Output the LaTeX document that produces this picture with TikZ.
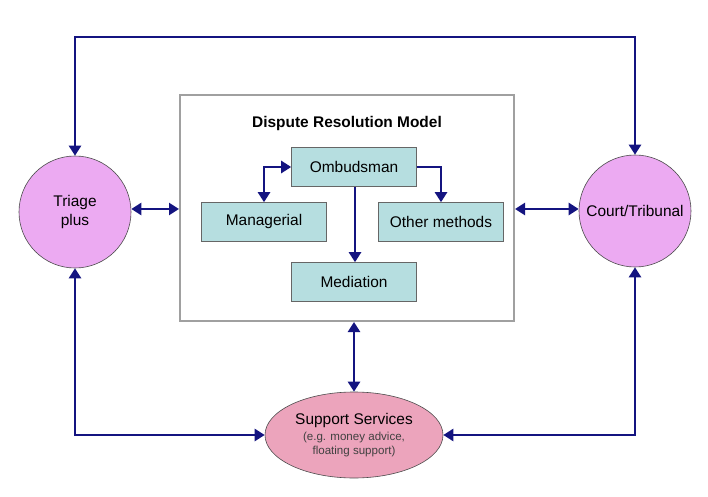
\documentclass[tikz,border=0pt]{standalone}
\usepackage{fontspec}
\setmainfont{Liberation Sans}
\usetikzlibrary{arrows.meta,shapes.geometric}
\definecolor{navyline}{RGB}{20,20,128}
\definecolor{boxfill}{RGB}{182,222,224}
\definecolor{circfill}{RGB}{236,170,242}
\definecolor{ellfill}{RGB}{236,164,188}
\definecolor{frame}{RGB}{160,160,160}
\tikzset{
  conn/.style={draw=navyline,line width=2.4bp,{Triangle[width=12bp,length=10bp]}-{Triangle[width=12bp,length=10bp]}},
  conn1/.style={draw=navyline,line width=2.4bp,-{Triangle[width=12bp,length=10bp]}},
  stepbox/.style={draw=black!60,line width=0.6bp,fill=boxfill,minimum width=125bp,minimum height=39bp,inner sep=0pt,font=\fontsize{15.5}{18}\selectfont},
  bigcirc/.style={circle,draw=black!70,line width=0.6bp,fill=circfill,minimum size=112bp,inner sep=0pt,align=center,font=\fontsize{15.5}{18}\selectfont},
}
\begin{document}
\begin{tikzpicture}[x=1bp,y=-1bp]
\useasboundingbox[fill=white] (0,0) rectangle (708,497);
\node[draw=frame,line width=2bp,minimum width=334bp,minimum height=226bp,inner sep=0pt] (dr) at (347,208) {};
\node[font=\bfseries\fontsize{15.5}{18}\selectfont] (title) at (347,124) {Dispute Resolution Model};
\node[stepbox] (omb) at (354,167) {Ombudsman};
\node[stepbox] (man) at (264,222) {Managerial};
\node[stepbox] (oth) at (441,222) {Other methods};
\node[stepbox] (med) at (354,282) {Mediation};
\node[bigcirc] (tri) at (75,212) {Triage\\[2bp]plus};
\node[bigcirc] (crt) at (635,211) {Court/Tribunal};
\node[ellipse,draw=black!70,line width=0.6bp,fill=ellfill,minimum width=178bp,minimum height=86bp,inner sep=0pt,align=center,font=\fontsize{11.6}{13.5}\selectfont] (sup) at (354,435)
  {{\fontsize{15.5}{18}\selectfont Support Services}\\[3bp]{\color{black!75}(e.g. money advice,}\\{\color{black!75}floating support)}};
\coordinate (topy) at (0,37);
\draw[conn] (omb.west) -| (man.north);
\draw[conn1] (omb.east) -| (oth.north);
\draw[conn1] (omb.south -| 355,0) -- (med.north -| 355,0);
\draw[conn] (tri.east |- 0,209) -- (dr.west |- 0,209);
\draw[conn] (dr.east |- 0,209) -- (crt.west |- 0,209);
\draw[conn] (tri.north) -- (tri.north |- topy) -| (crt.north);
\draw[conn] (sup.north |- dr.south) -- (sup.north);
\draw[conn] (tri.south) |- (sup.west);
\draw[conn] (crt.south) |- (sup.east);
\end{tikzpicture}
\end{document}
